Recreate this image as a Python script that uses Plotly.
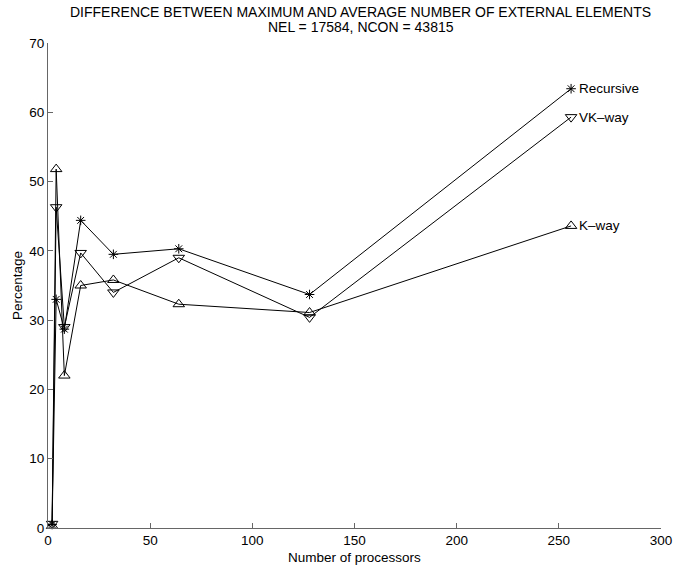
import plotly.graph_objects as go

processors = [2, 4, 8, 16, 32, 64, 128, 256]
recursive = [0.5, 33.0, 28.7, 44.4, 39.5, 40.3, 33.7, 63.4]
vk_way = [0.6, 46.3, 29.0, 39.7, 34.0, 39.0, 30.4, 59.3]
k_way = [0.3, 51.8, 22.0, 35.0, 35.8, 32.3, 31.1, 43.6]

series_names = ["Recursive", "VK\u2013way", "K\u2013way"]
series_values = [recursive, vk_way, k_way]
series_symbols = ["asterisk-open", "triangle-down-open", "triangle-up-open"]
series_sizes = [8, 10, 10]

x_ticks = [0, 50, 100, 150, 200, 250, 300]
y_ticks = [0, 10, 20, 30, 40, 50, 60, 70]

title_lines = ["DIFFERENCE BETWEEN MAXIMUM AND AVERAGE NUMBER OF EXTERNAL ELEMENTS",
               "NEL = 17584, NCON = 43815"]

FONT = "Liberation Sans, Arial, Helvetica, sans-serif"
FS = 13.5
W, H = 674, 571
# plot box in window pixels: left 48, right 661, top 43, bottom 528
L, T = 48, 43
R = W - 661
B = H - 528

fig = go.Figure()
for name, vals, sym, sz in zip(series_names, series_values, series_symbols, series_sizes):
    fig.add_trace(go.Scatter(
        x=processors, y=vals, mode="lines+markers", name=name,
        line=dict(color="black", width=1),
        marker=dict(symbol=sym, size=sz, color="black", line=dict(color="black", width=1)),
        showlegend=False, cliponaxis=False,
    ))
    fig.add_annotation(x=processors[-1], y=vals[-1], xref="x", yref="y",
                       text=name, showarrow=False, xanchor="left", yanchor="middle",
                       xshift=6, font=dict(family=FONT, size=FS, color="black"))

pw = W - L - R
ph = H - T - B

def px2paper(px, py):
    return (px - L) / pw, (H - B - py) / ph

tx, ty1 = px2paper(361, 12)
_, ty2 = px2paper(361, 27)
fig.add_annotation(x=tx, y=ty1, xref="paper", yref="paper", text=title_lines[0],
                   showarrow=False, xanchor="center", yanchor="middle",
                   font=dict(family=FONT, size=14, color="black"))
fig.add_annotation(x=tx, y=ty2, xref="paper", yref="paper", text=title_lines[1],
                   showarrow=False, xanchor="center", yanchor="middle",
                   font=dict(family=FONT, size=14, color="black"))
xl, yl = px2paper(355, 557)
fig.add_annotation(x=xl, y=yl, xref="paper", yref="paper", text="Number of processors",
                   showarrow=False, xanchor="center", yanchor="middle",
                   font=dict(family=FONT, size=FS, color="black"))
ylx, yly = px2paper(17, 286)
fig.add_annotation(x=ylx, y=yly, xref="paper", yref="paper", text="Percentage",
                   showarrow=False, xanchor="center", yanchor="middle", textangle=-90,
                   font=dict(family=FONT, size=FS, color="black"))

axis_common = dict(showgrid=False, zeroline=False, showline=True, linecolor="#666666",
                   linewidth=1, ticks="inside", ticklen=5, tickcolor="#666666",
                   tickfont=dict(family=FONT, size=FS, color="black"), mirror=False)
fig.update_xaxes(range=[0, 300], tickvals=x_ticks, **axis_common)
fig.update_yaxes(range=[0, 70], tickvals=y_ticks, **axis_common)

fig.update_layout(width=W, height=H, margin=dict(l=L, r=R, t=T, b=B, autoexpand=False),
                  paper_bgcolor="white", plot_bgcolor="white", hovermode=False,
                  font=dict(family=FONT, size=FS, color="black"))

fig.write_html("out.html", config={"displayModeBar": False, "staticPlot": True},
               post_script="document.body.style.margin='0';document.body.style.overflow='hidden';")
